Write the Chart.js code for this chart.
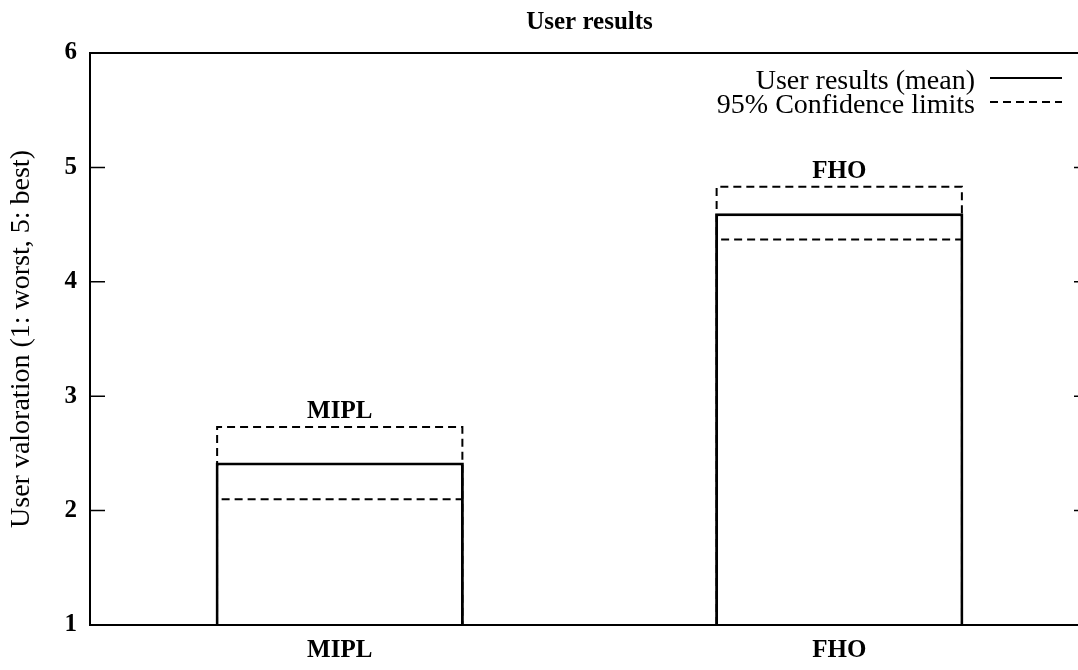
<!DOCTYPE html>
<html>
<head>
<meta charset="utf-8">
<script src="https://cdn.jsdelivr.net/npm/chart.js@4/dist/chart.umd.min.js"></script>
<style>
	html, body { margin: 0; padding: 0; background: #fff; overflow: hidden; }
	#wrap { width: 1078px; height: 670px; overflow: hidden; }
</style>
</head>
<body>
<div id="wrap"><canvas id="chart" width="1100" height="670"></canvas></div>
<script>
var chartTitle = 'User results';
var categories = ['MIPL', 'FHO'];
var meanValues = [2.42, 4.60];
var upperLimits = [2.74, 4.84];
var lowerLimits = [2.10, 4.37];
var yTicks = [1, 2, 3, 4, 5, 6];

var serif = "'Liberation Serif', 'DejaVu Serif', serif";
var dash = [8, 5];

// gnuplot-like frame, inward ticks, dashed confidence boxes, key and bar labels
var gnuplotLook = {
	id: 'gnuplotLook',
	beforeDatasetsDraw: function(chart) {
		var ctx = chart.ctx;
		ctx.save();
		ctx.strokeStyle = '#000';
		ctx.lineWidth = 2;
		ctx.setLineDash(dash);
		chart.getDatasetMeta(1).data.forEach(function(bar) {
			var p = bar.getProps(['x', 'y', 'base', 'width'], true);
			var l = p.x - p.width / 2 + 1.5, r = p.x + p.width / 2 - 1.5;
			ctx.beginPath();
			ctx.moveTo(l, p.base);
			ctx.lineTo(l, p.y + 1);
			ctx.lineTo(r, p.y + 1);
			ctx.lineTo(r, p.base);
			ctx.stroke();
		});
		ctx.restore();
	},
	afterDatasetsDraw: function(chart) {
		var ctx = chart.ctx;
		var area = chart.chartArea;
		var yScale = chart.scales.y;
		ctx.save();
		ctx.strokeStyle = '#000';
		ctx.lineWidth = 2;
		ctx.setLineDash(dash);
		chart.getDatasetMeta(2).data.forEach(function(bar) {
			var p = bar.getProps(['x', 'y', 'width'], true);
			ctx.beginPath();
			ctx.moveTo(p.x - p.width / 2 + 6, p.y);
			ctx.lineTo(p.x + p.width / 2 - 2, p.y);
			ctx.stroke();
		});
		ctx.setLineDash([]);

		// labels over the upper limits
		ctx.fillStyle = '#000';
		ctx.font = 'bold 25px ' + serif;
		ctx.textAlign = 'center';
		ctx.textBaseline = 'bottom';
		chart.getDatasetMeta(1).data.forEach(function(bar, i) {
			var p = bar.getProps(['x', 'y'], true);
			ctx.fillText(categories[i], p.x, p.y - 2);
		});

		// title, centred over the plot like gnuplot
		ctx.textBaseline = 'middle';
		ctx.fillText(chartTitle, (area.left + area.right) / 2, 23);

		// frame
		ctx.lineWidth = 2;
		ctx.strokeRect(area.left, area.top, area.right - area.left, area.bottom - area.top);

		// inward ticks, both sides
		ctx.lineWidth = 1.5;
		yTicks.forEach(function(v) {
			var y = yScale.getPixelForValue(v);
			ctx.beginPath();
			ctx.moveTo(area.left, y);
			ctx.lineTo(area.left + 15, y);
			ctx.moveTo(area.right, y);
			ctx.lineTo(area.right - 15, y);
			ctx.stroke();
		});

		// key
		var ds = chart.data.datasets;
		var rows = [{ label: ds[0].label, dashed: false }, { label: ds[1].label, dashed: true }];
		ctx.font = '28px ' + serif;
		ctx.textAlign = 'right';
		ctx.textBaseline = 'middle';
		ctx.lineWidth = 2;
		rows.forEach(function(row, i) {
			var y = area.top + 25 + i * 24;
			ctx.fillText(row.label, area.right - 114, y + 4);
			ctx.setLineDash(row.dashed ? dash : []);
			ctx.beginPath();
			ctx.moveTo(area.right - 99, y);
			ctx.lineTo(area.right - 27, y);
			ctx.stroke();
		});
		ctx.restore();
	}
};

new Chart(document.getElementById('chart'), {
	type: 'bar',
	data: {
		labels: categories,
		datasets: [
			{
				label: 'User results (mean)',
				data: meanValues,
				base: 1,
				grouped: false,
				backgroundColor: '#fff',
				borderColor: '#000',
				borderWidth: 3,
				borderSkipped: 'start',
				barPercentage: 0.497,
				categoryPercentage: 1,
				order: 1
			},
			{
				label: '95% Confidence limits',
				data: upperLimits,
				base: 1,
				grouped: false,
				backgroundColor: 'rgba(0,0,0,0)',
				borderWidth: 0,
				barPercentage: 0.497,
				categoryPercentage: 1,
				order: 2
			},
			{
				label: '95% Confidence limits',
				data: lowerLimits,
				base: 1,
				grouped: false,
				backgroundColor: 'rgba(0,0,0,0)',
				borderWidth: 0,
				barPercentage: 0.497,
				categoryPercentage: 1,
				order: 0
			}
		]
	},
	options: {
		responsive: false,
		animation: false,
		layout: { padding: { left: 0, right: 11, top: 53, bottom: 0 } },
		plugins: {
			legend: { display: false },
			tooltip: { enabled: false },
			title: { display: false }
		},
		scales: {
			x: {
				offset: true,
				grid: { display: false, drawTicks: false },
				border: { display: false },
				ticks: {
					color: '#000',
					padding: 11,
					font: { family: serif, size: 25, weight: 'bold' }
				},
				afterFit: function(scale) { scale.height = 45; }
			},
			y: {
				min: 1,
				max: 6,
				grid: { display: false, drawTicks: false },
				border: { display: false },
				ticks: {
					stepSize: 1,
					color: '#000',
					padding: 13,
					font: { family: serif, size: 25, weight: 'bold' }
				},
				title: {
					display: true,
					text: 'User valoration (1: worst, 5: best)',
					color: '#000',
					font: { family: serif, size: 28 },
					padding: { top: 5, bottom: 0 }
				},
				afterFit: function(scale) { scale.width = 90; }
			}
		}
	},
	plugins: [gnuplotLook]
});
</script>
</body>
</html>
